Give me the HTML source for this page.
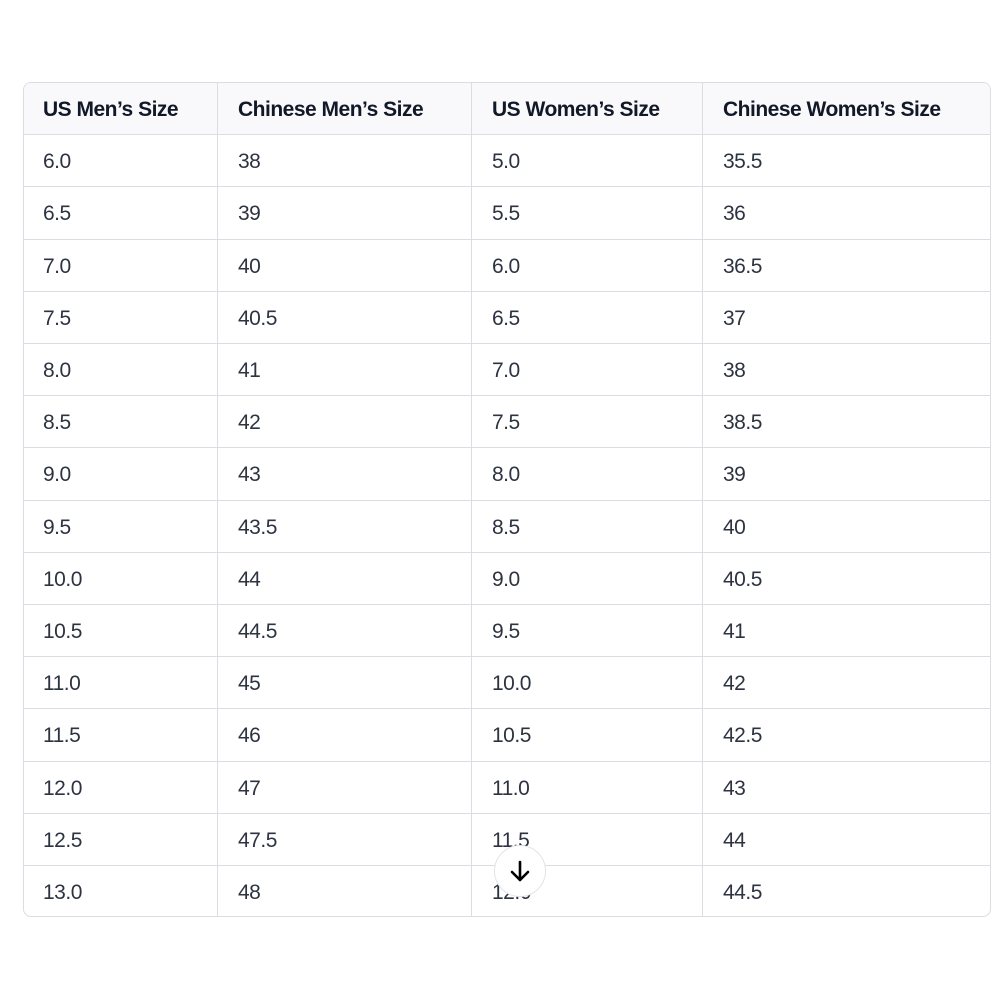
<!DOCTYPE html>
<html><head><style>
body{margin:0;width:1000px;height:1000px;background:#fff;font-family:"Liberation Sans",sans-serif;position:relative;overflow:hidden}
.t{position:absolute;left:23px;top:82px;width:968px;height:835px;border:1px solid #dcdce2;border-radius:8px;box-sizing:border-box;overflow:hidden}
.hd{position:absolute;left:0;top:0;right:0;height:52px;background:#f9f9fb}
.h{position:absolute;left:0;right:0;height:1px;background:#dcdce2}
.v{position:absolute;top:0;bottom:0;width:1px;background:#dcdce2}
.c{position:absolute;font-size:21px;letter-spacing:-0.5px;color:#2d3340;line-height:52px;white-space:nowrap}
.c.b{color:#111827;font-weight:bold}
.btn{position:absolute;left:494px;top:845px;width:52px;height:52px;border-radius:50%;background:#fff;border:1px solid #e3e3e8;box-sizing:border-box}
</style></head><body>
<div class="t" id="t"><div class="hd"></div></div>
<div class="btn"><svg width="50" height="50" viewBox="0 0 50 50"><path d="M25 16V34M17 26L25 34L33 26" stroke="#000" stroke-width="2.6" fill="none" stroke-linecap="round" stroke-linejoin="round"/></svg></div>
<script>
var d=[["US Men’s Size","Chinese Men’s Size","US Women’s Size","Chinese Women’s Size"],
["6.0","38","5.0","35.5"],["6.5","39","5.5","36"],["7.0","40","6.0","36.5"],["7.5","40.5","6.5","37"],
["8.0","41","7.0","38"],["8.5","42","7.5","38.5"],["9.0","43","8.0","39"],["9.5","43.5","8.5","40"],
["10.0","44","9.0","40.5"],["10.5","44.5","9.5","41"],["11.0","45","10.0","42"],["11.5","46","10.5","42.5"],
["12.0","47","11.0","43"],["12.5","47.5","11.5","44"],["13.0","48","12.0","44.5"]];
var t=document.getElementById('t'),h='',xs=[0,193,447,678],px=[19,21,21,21],rh=52.2;
for(var i=1;i<4;i++)h+='<div class="v" style="left:'+xs[i]+'px"></div>';
for(var r=0;r<16;r++){
 if(r>0)h+='<div class="h" style="top:'+(r*rh-1).toFixed(1)+'px"></div>';
 for(var c=0;c<4;c++)h+='<div class="c'+(r==0?' b':'')+'" style="left:'+(xs[c]+px[c])+'px;top:'+(r*rh+1).toFixed(1)+'px">'+d[r][c]+'</div>';
}
t.innerHTML+=h;
</script>
</body></html>
